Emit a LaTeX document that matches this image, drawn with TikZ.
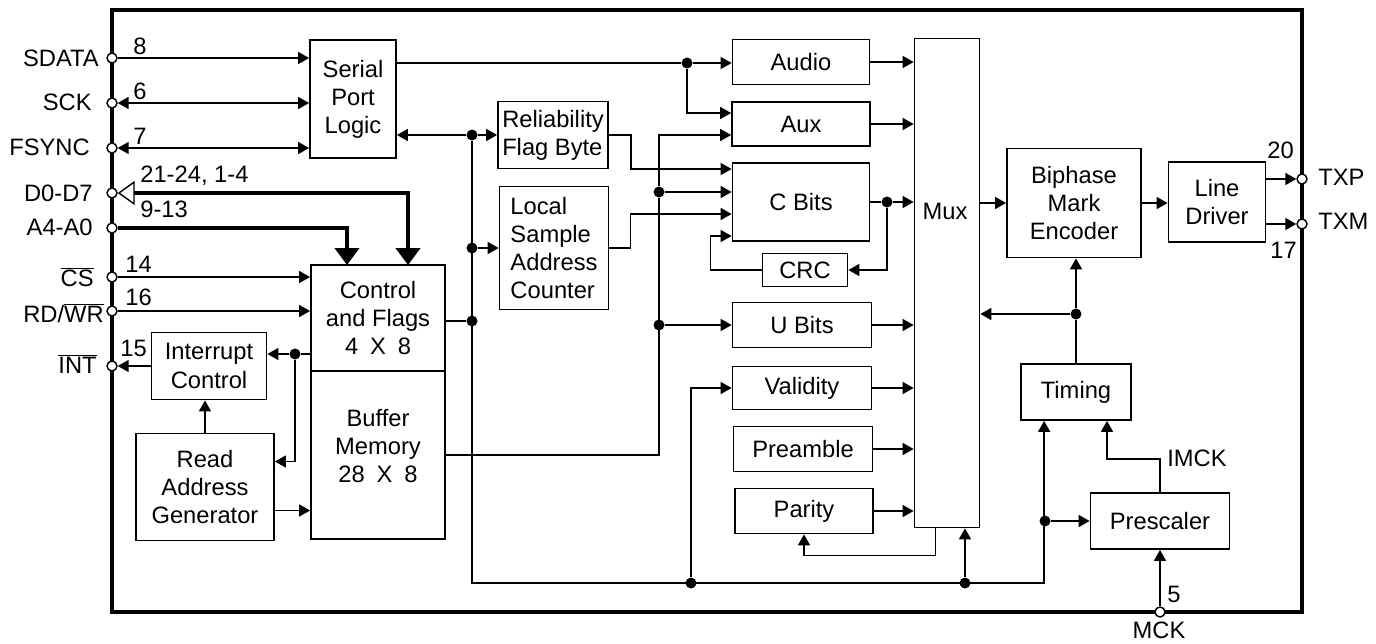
\documentclass[tikz,border=0pt]{standalone}
\usepackage{fontspec}
\setmainfont{Liberation Sans}
\usetikzlibrary{arrows.meta}

\begin{document}
\begin{tikzpicture}[x=0.02cm, y=-0.02cm,
  every node/.style={font=\fontsize{13.5}{16}\selectfont},
  blk/.style={draw, line width=1pt, align=center, inner sep=0pt},
  txt/.style={inner sep=0pt},
  pin/.style={circle, draw, fill=white, line width=0.8pt, minimum size=0.2cm, inner sep=0pt},
  dot/.style={circle, fill, minimum size=0.22cm, inner sep=0pt},
  wire/.style={line width=0.8pt},
  sig/.style={line width=0.8pt, -{Triangle[length=0.22cm, width=0.24cm]}},
  bsig/.style={line width=0.8pt, {Triangle[length=0.22cm, width=0.24cm]}-{Triangle[length=0.22cm, width=0.24cm]}},
  bus/.style={line width=2.8pt, -{Triangle[length=0.34cm, width=0.48cm]}}]
\useasboundingbox (0,0) rectangle (1376,643);
\draw[line width=2.4pt] (112,10) rectangle (1302,612);

\node[pin] (pSDATA) at (112,58) {};
\node[pin] (pSCK) at (112,103) {};
\node[pin] (pFSYNC) at (112,148) {};
\node[pin] (pD) at (112,193) {};
\node[pin] (pA) at (112,228) {};
\node[pin] (pCS) at (112,277) {};
\node[pin] (pRW) at (112,311) {};
\node[pin] (pINT) at (112,366) {};
\node[pin] (pTXP) at (1302,179) {};
\node[pin] (pTXM) at (1302,224) {};
\node[pin] (pMCK) at (1160,612) {};

\node[txt, anchor=east] (lSDATA) at (99,58) {SDATA};
\node[txt, anchor=east] (lSCK) at (92,102) {SCK};
\node[txt, anchor=east] (lFSYNC) at (90,147) {FSYNC};
\node[txt, anchor=east] (lD) at (93,193) {D0-D7};
\node[txt, anchor=east] (lA) at (93,227) {A4-A0};
\node[txt, anchor=east] (lCS) at (94,277) {$\overline{\mbox{CS}}$};
\node[txt, anchor=east] (lRW) at (104,313) {RD/$\overline{\mbox{WR}}$};
\node[txt, anchor=east] (lINT) at (97,364) {$\overline{\mbox{INT}}$};
\node[txt, anchor=west] (n8) at (133,46) {8};
\node[txt, anchor=west] (n6) at (133,91) {6};
\node[txt, anchor=west] (n7) at (133,136) {7};
\node[txt, anchor=west] (nD1) at (140,176) {21-24, 1-4};
\node[txt, anchor=west] (nD2) at (140,209) {9-13};
\node[txt, anchor=west] (n14) at (125,264) {14};
\node[txt, anchor=west] (n16) at (125,297) {16};
\node[txt, anchor=west] (n15) at (120,348) {15};
\node[txt, anchor=west] (n20) at (1267,150) {20};
\node[txt, anchor=west] (n17) at (1270,250) {17};
\node[txt, anchor=west] (lTXP) at (1318,177) {TXP};
\node[txt, anchor=west] (lTXM) at (1318,221) {TXM};
\node[txt, anchor=west] (lIMCK) at (1167,458) {IMCK};
\node[txt, anchor=west] (n5) at (1167,594) {5};
\node[txt] (lMCK) at (1159,630) {MCK};

\node[blk, minimum width=1.72cm, minimum height=2.36cm] (serial) at (353,99) {Serial\\Port\\Logic};
\node[blk, minimum width=2.68cm, minimum height=2.12cm] (ctrl) at (378,318) {Control\\and Flags\\4\enspace X\enspace 8};
\node[blk, minimum width=2.68cm, minimum height=3.36cm, text depth=0.36cm] (buf) at (378,455) {Buffer\\Memory\\28\enspace X\enspace 8};
\node[blk, minimum width=2.3cm, minimum height=1.34cm] (intr) at (209,366) {Interrupt\\Control};
\node[blk, minimum width=2.76cm, minimum height=2.14cm] (rag) at (205,487) {Read\\Address\\Generator};
\node[blk, align=left, minimum width=2.2cm, minimum height=1.34cm] (rel) at (553,135) {Reliability\\Flag Byte};
\node[blk, align=left, minimum width=2.18cm, minimum height=2.46cm] (lsac) at (554,248) {Local\\Sample\\Address\\Counter};
\node[blk, minimum width=2.74cm, minimum height=0.9cm] (audio) at (801,62) {Audio};
\node[blk, minimum width=2.76cm, minimum height=0.88cm] (aux) at (801,124) {Aux};
\node[blk, minimum width=2.74cm, minimum height=1.56cm] (cbits) at (801,202) {C Bits};
\node[blk, minimum width=1.7cm, minimum height=0.66cm] (crc) at (805,270) {CRC};
\node[blk, minimum width=2.78cm, minimum height=0.9cm] (ubits) at (802,325) {U Bits};
\node[blk, minimum width=2.78cm, minimum height=0.86cm] (valid) at (802,388) {Validity};
\node[blk, minimum width=2.78cm, minimum height=0.9cm] (pream) at (803,449) {Preamble};
\node[blk, minimum width=2.76cm, minimum height=0.9cm] (parity) at (804,511) {Parity};
\node[blk, minimum width=1.3cm, minimum height=9.78cm] (mux) at (947,283) {};
\node[txt] (muxlbl) at (945,211) {Mux};
\node[blk, minimum width=2.68cm, minimum height=2.18cm] (bme) at (1074,203) {Biphase\\Mark\\Encoder};
\node[blk, minimum width=1.94cm, minimum height=1.6cm] (ldrv) at (1217,202) {Line\\Driver};
\node[blk, minimum width=2.2cm, minimum height=1.12cm] (timing) at (1076,392) {Timing};
\node[blk, minimum width=2.78cm, minimum height=1.12cm] (presc) at (1160,521) {Prescaler};

\node[dot] (d1) at (295,354) {};
\node[dot] (d2) at (472,135) {};
\node[dot] (d3) at (472,248) {};
\node[dot] (d4) at (472,321) {};
\node[dot] (d5) at (659,192) {};
\node[dot] (d6) at (659,325) {};
\node[dot] (dA) at (687,63) {};
\node[dot] (dC) at (887,202) {};
\node[dot] (dB1) at (691,583) {};
\node[dot] (dB2) at (965,583) {};
\node[dot] (dP) at (1045,521) {};
\node[dot] (dT) at (1076,314) {};
\coordinate (cbl) at (472,583);
\coordinate (dtop) at (408,265);
\coordinate (atop) at (347,265);
\path ([yshift=-0.47cm]rag.east) coordinate (r1);

\draw[sig] (pSDATA) -- (pSDATA -| serial.west);
\draw[bsig] (pSCK) -- (pSCK -| serial.west);
\draw[bsig] (pFSYNC) -- (pFSYNC -| serial.west);
\draw[bus, {Triangle[open, line width=0.8pt, length=0.34cm, width=0.48cm]}-{Triangle[length=0.34cm, width=0.48cm]}] (pD) -| (dtop);
\draw[bus] (pA) -| (atop);
\draw[sig] (pCS) -- (pCS -| ctrl.west);
\draw[sig] (pRW) -- (pRW -| ctrl.west);
\draw[sig] (intr.west) -- (pINT);
\draw[wire] (d1 -| ctrl.west) -- (d1);
\draw[sig] (d1) -- (d1 -| intr.east);
\draw[sig] (d1) |- ([yshift=0.51cm]rag.east);
\draw[sig] (rag.north) -- (rag.north |- intr.south);
\draw[sig] (r1) -- (r1 -| buf.west);

\draw[wire] (dA -| serial.east) -- (dA);
\draw[sig] (dA) -- (dA -| audio.west);
\draw[sig] (dA) |- ([yshift=0.22cm]aux.west);
\draw[sig] (d2) -- (d2 -| serial.east);
\draw[sig] (d2) -- (d2 -| rel.west);
\draw[sig] (d3) -- (d3 -| lsac.west);
\draw[wire] (d4 -| ctrl.east) -- (d4);
\draw[sig] (d2) -- (cbl) -| ([xshift=0.48cm]timing.south west);
\draw[sig] (rel.east) -- ++(22,0) |- ([yshift=0.66cm]cbits.west);
\draw[sig] (lsac.east) -- ++(21,0) |- ([yshift=-0.24cm]cbits.west);
\draw[sig] (buf.east) -| (d5) |- ([yshift=-0.22cm]aux.west);
\draw[sig] (d5) -- (d5 -| cbits.west);
\draw[sig] (d6) -- (d6 -| ubits.west);
\draw[sig] (dB1) |- (valid.west);
\draw[sig] (dB2) -- (dB2 |- mux.south);
\draw[sig] (dP) -- (presc.west);

\draw[wire] (cbits.east) -- (dC);
\draw[sig] (dC) -- (dC -| mux.west);
\draw[sig] (dC) |- (crc.east);
\draw[sig] (crc.west) -- ++(-51,0) |- ([yshift=-0.68cm]cbits.west);
\foreach \b in {audio,aux,ubits,valid,pream,parity}
  \draw[sig] (\b.east) -- (\b.east -| mux.west);
\draw[sig] ([xshift=-0.23cm]mux.south) -- ++(0,27) -| (parity.south);

\draw[sig] (bme.west -| mux.east) -- (bme.west);
\draw[sig] (bme.east) -- (bme.east -| ldrv.west);
\draw[sig] (pTXP -| ldrv.east) -- (pTXP);
\draw[sig] (pTXM -| ldrv.east) -- (pTXM);
\draw[wire] (timing.north) -- (dT);
\draw[sig] (dT) -- (dT |- bme.south);
\draw[sig] (dT) -- (dT -| mux.east);
\draw[sig] (presc.north) -- ++(0,-33) -| ([xshift=0.62cm]timing.south);
\draw[sig] (pMCK) -- (presc.south);
\end{tikzpicture}
\end{document}
